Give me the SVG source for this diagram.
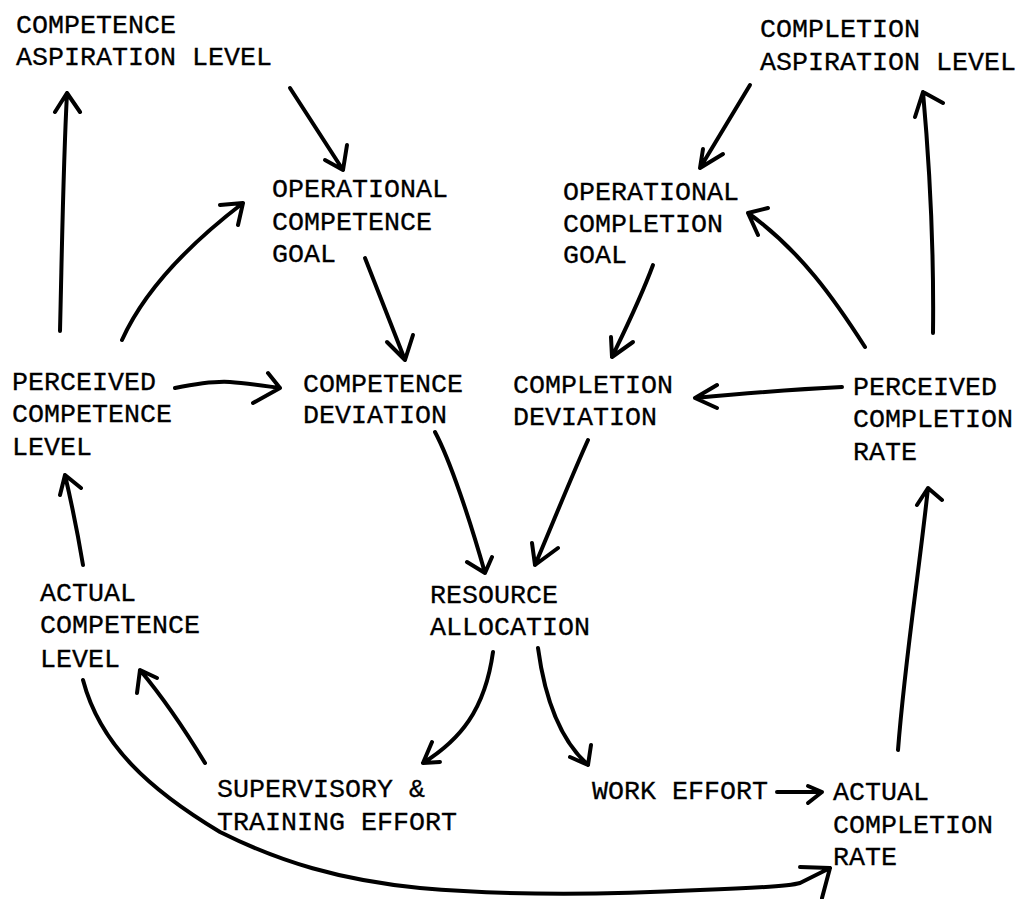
<svg xmlns="http://www.w3.org/2000/svg" width="1022" height="899" viewBox="0 0 1022 899">
<style>
text{font-family:"Liberation Mono","Courier New",monospace;font-size:26.67px;fill:#000;stroke:#000;stroke-width:0.3}
.c path{fill:none;stroke:#000;stroke-width:4;stroke-linecap:round;stroke-linejoin:round}
</style>
<rect width="1022" height="899" fill="#fff"/>
<g id="n-comp-asp"><text x="16" y="33">COMPETENCE</text><text x="16" y="65">ASPIRATION LEVEL</text></g>
<g id="n-compl-asp"><text x="760" y="37">COMPLETION</text><text x="760" y="70">ASPIRATION LEVEL</text></g>
<g id="n-op-comp-goal"><text x="272" y="197">OPERATIONAL</text><text x="272" y="230">COMPETENCE</text><text x="272" y="262">GOAL</text></g>
<g id="n-op-compl-goal"><text x="563" y="200">OPERATIONAL</text><text x="563" y="232">COMPLETION</text><text x="563" y="263">GOAL</text></g>
<g id="n-perc-comp"><text x="12" y="390">PERCEIVED</text><text x="12" y="422">COMPETENCE</text><text x="12" y="455">LEVEL</text></g>
<g id="n-comp-dev"><text x="303" y="392">COMPETENCE</text><text x="303" y="423">DEVIATION</text></g>
<g id="n-compl-dev"><text x="513" y="393">COMPLETION</text><text x="513" y="425">DEVIATION</text></g>
<g id="n-perc-compl"><text x="853" y="395">PERCEIVED</text><text x="853" y="427">COMPLETION</text><text x="853" y="460">RATE</text></g>
<g id="n-act-comp"><text x="40" y="601">ACTUAL</text><text x="40" y="633">COMPETENCE</text><text x="40" y="667">LEVEL</text></g>
<g id="n-resource"><text x="430" y="603">RESOURCE</text><text x="430" y="635">ALLOCATION</text></g>
<g id="n-superv"><text x="217" y="797">SUPERVISORY &amp;</text><text x="217" y="830">TRAINING EFFORT</text></g>
<g id="n-work"><text x="592" y="799">WORK EFFORT</text></g>
<g id="n-act-compl"><text x="833" y="800">ACTUAL</text><text x="833" y="833">COMPLETION</text><text x="833" y="865">RATE</text></g>
<g id="connectors" class="c">
<path d="M60,331 C62,250 63,170 67,93 M55,112 L67,93 L80,112"/>
<path d="M122,340 C140,300 175,255 243,203 M220,205 L243,203 L238,225"/>
<path d="M290,88 L343,170 M325,160 L343,170 L347,145"/>
<path d="M365,258 L405,360 M387,342 L405,360 L413,335"/>
<path d="M175,388 C200,383 215,381 230,382 C245,383 258,385 280,388 M268,373 L280,388 L253,403"/>
<path d="M435,432 C450,460 470,520 485,573 M467,562 L485,573 L492,557"/>
<path d="M653,265 C640,300 625,330 612,357 M611,337 L612,357 L633,342"/>
<path d="M750,85 L700,168 M703,149 L700,168 L723,154"/>
<path d="M865,347 C835,300 800,250 748,213 M768,208 L748,213 L758,235"/>
<path d="M933,333 C934,250 930,170 923,92 M915,117 L923,92 L943,103"/>
<path d="M842,387 C800,389 760,392 695,398 M717,385 L695,398 L717,408"/>
<path d="M588,440 C570,480 550,530 535,565 M532,543 L535,565 L558,548"/>
<path d="M898,750 C905,660 918,580 928,488 M917,505 L928,488 L942,500"/>
<path d="M83,565 C78,535 72,505 65,475 M60,495 L65,475 L81,488"/>
<path d="M493,652 C485,710 460,740 423,763 M432,742 L423,763 L440,762"/>
<path d="M205,763 C185,730 165,700 140,670 M137,693 L140,670 L157,678"/>
<path d="M538,648 C545,700 560,740 588,765 M570,757 L588,765 L591,745"/>
<path d="M777,792 L822,792 M808,786 L822,792 L808,803"/>
<path d="M83,680 C100,745 150,790 220,832 C280,862 340,880 420,888 C500,895 600,895 700,890 C760,888 790,886 800,883 L830,868 M800,867 L830,868 L822,898"/>
</g>
</svg>
